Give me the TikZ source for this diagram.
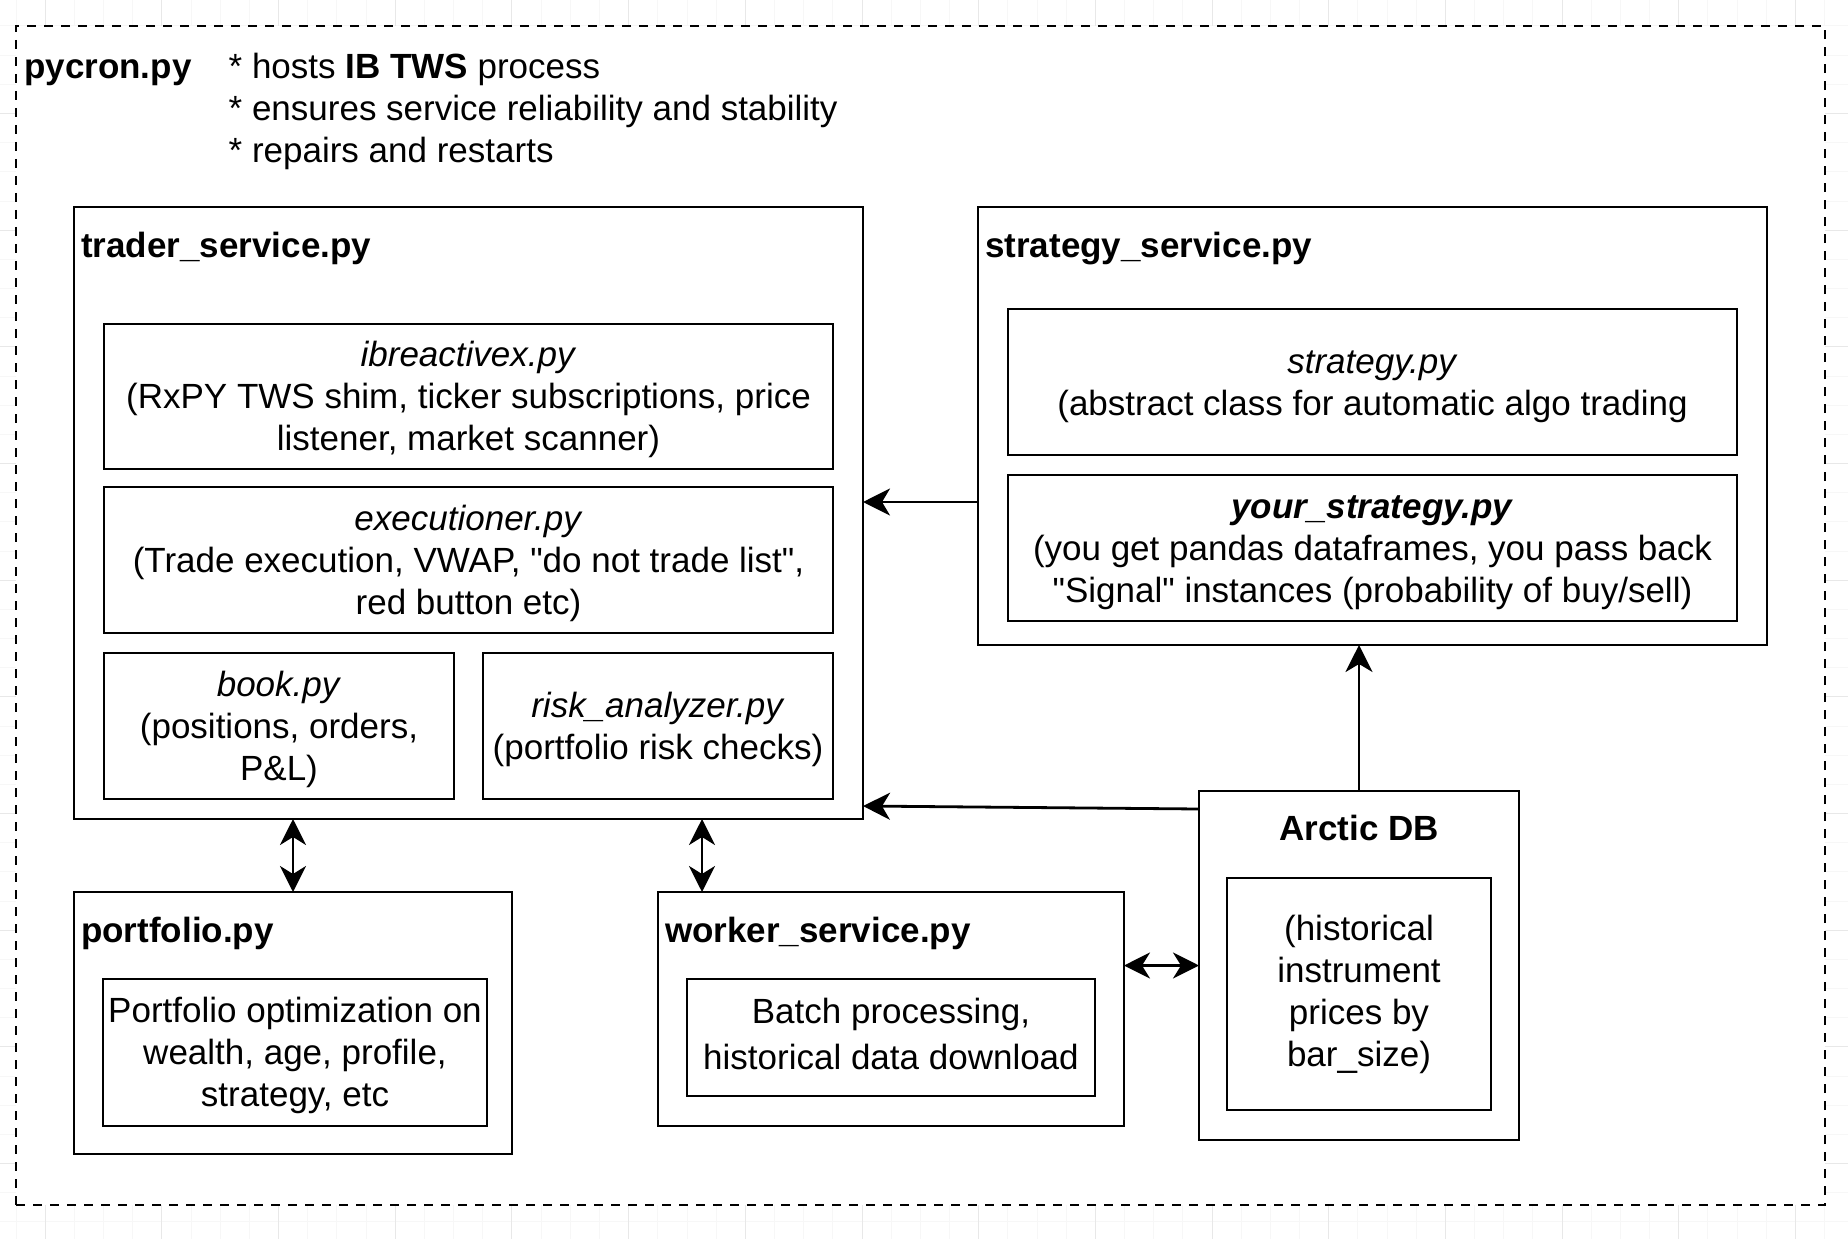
\documentclass[tikz,border=0pt]{standalone}
\usepackage{fontspec}
\setmainfont{Liberation Sans}
\usetikzlibrary{arrows.meta, positioning, calc}
\newcommand\padtop{\rule{0pt}{35pt}}

\begin{document}
\begin{tikzpicture}[x=1pt, y=-1pt,
  font=\fontsize{35}{42}\selectfont,
  frame/.style={draw, line width=2.8pt, fill=white, inner sep=0pt, outer sep=0pt, anchor=north west},
  boxtext/.style={frame, align=center},
  module/.style={boxtext, execute at end node={\rule[-11pt]{0pt}{0pt}}},
  title/.style={anchor=base west, inner sep=0pt, font=\fontsize{35}{42}\selectfont\bfseries},
  note/.style={anchor=base west, inner sep=0pt},
  arr/.style={line width=2.8pt, -{Stealth[length=27pt, width=27pt, inset=8pt]}},
  dbl/.style={line width=2.8pt, {Stealth[length=26pt, width=26pt, inset=8pt]}-{Stealth[length=26pt, width=26pt, inset=8pt]}},
  gridminor/.style={draw=gray!6, line width=1pt},
  gridmajor/.style={draw=gray!18, line width=1pt}]
\useasboundingbox (0,0) rectangle (1848,1239);

% background grid
\foreach \k in {0,...,62} {
  \pgfmathsetmacro\gx{16.1+29.17*\k}
  \draw[gridminor] (\gx,0) -- (\gx,1239);
}
\foreach \k in {0,...,42} {
  \pgfmathsetmacro\gy{26+29.17*\k}
  \draw[gridminor] (0,\gy) -- (1848,\gy);
}
\foreach \k in {1,5,...,61} {
  \pgfmathsetmacro\gx{16.1+29.17*\k}
  \draw[gridmajor] (\gx,0) -- (\gx,1239);
}
\foreach \k in {3,7,...,39} {
  \pgfmathsetmacro\gy{26+29.17*\k}
  \draw[gridmajor] (0,\gy) -- (1848,\gy);
}

% pycron.py container
\node[frame, dash pattern=on 9pt off 8pt, minimum width=1809pt, minimum height=1179pt] (pycron) at (16,26) {};
\node[title] (pycronlbl) at (24,78.5) {pycron.py};
\foreach \line [count=\i from 0] in {{* hosts \textbf{IB TWS} process}, {* ensures service reliability and stability}, {* repairs and restarts}}
  \node[note] (duty\i) at (228.5,{78.5+42*\i}) {\line};

% trader_service.py
\node[frame, minimum width=789pt, minimum height=612pt] (trader) at (74,207) {};
\node[title] (traderlbl) at (81,257) {trader\_service.py};
\node[module, minimum width=729pt, minimum height=145pt] (ibreact) at (104,324)
  {\padtop\textit{ibreactivex.py}\\(RxPY TWS shim, ticker subscriptions, price\\listener, market scanner)};
\node[module, minimum width=729pt, minimum height=146pt] (exec) at (104,487)
  {\padtop\textit{executioner.py}\\(Trade execution, VWAP, \textquotedbl do not trade list\textquotedbl,\\red button etc)};
\node[module, minimum width=350pt, minimum height=146pt] (book) at (104,653)
  {\padtop\textit{book.py}\\(positions, orders,\\P\&L)};
\node[module, minimum width=350pt, minimum height=146pt] (risk) at (483,653)
  {\padtop\textit{risk\_analyzer.py}\\(portfolio risk checks)};

% strategy_service.py
\node[frame, minimum width=789pt, minimum height=438pt] (strategy) at (978,207) {};
\node[title] (strategylbl) at (985,257) {strategy\_service.py};
\node[module, minimum width=729pt, minimum height=146pt] (strat) at (1008,309)
  {\padtop\textit{strategy.py}\\(abstract class for automatic algo trading};
\node[module, minimum width=729pt, minimum height=146pt] (yourstrat) at (1008,475)
  {\padtop\textbf{\textit{your\_strategy.py}}\\(you get pandas dataframes, you pass back\\\textquotedbl Signal\textquotedbl{} instances (probability of buy/sell)};

% portfolio.py
\node[frame, minimum width=438pt, minimum height=262pt] (portfolio) at (74,892) {};
\node[title] (portfoliolbl) at (81,942) {portfolio.py};
\node[module, minimum width=384pt, minimum height=147pt] (optim) at (103,979)
  {\padtop Portfolio optimization on\\wealth, age, profile,\\strategy, etc};

% worker_service.py
\node[frame, minimum width=466pt, minimum height=234pt] (worker) at (658,892) {};
\node[title] (workerlbl) at (665,942) {worker\_service.py};
\node[boxtext, minimum width=408pt, minimum height=117pt, font=\fontsize{35}{46}\selectfont,
  execute at end node={\rule[-7pt]{0pt}{0pt}}] (batch) at (687,979)
  {Batch processing,\\historical data download};

% Arctic DB
\node[frame, minimum width=320pt, minimum height=349pt] (arctic) at (1199,791) {};
\node[title, anchor=base] (arcticlbl) at (1359,840) {Arctic DB};
\node[boxtext, minimum width=264pt, minimum height=232pt] (prices) at (1227,878)
  {(historical\\instrument\\prices by\\bar\_size)};

% connectors
\coordinate (sigY) at (0,502);
\draw[arr] (strategy.west |- sigY) -- (trader.east |- sigY);
\draw[arr] ([yshift=-18pt]arctic.north west) -- ([yshift=13pt]trader.south east);
\draw[arr] (arctic.north) -- (arctic.north |- strategy.south);
\draw[dbl] (portfolio.north) -- (portfolio.north |- trader.south);
\draw[dbl] ([xshift=44pt]worker.north west) -- ([xshift=44pt]worker.north west |- trader.south);
\draw[dbl] (arctic.west) -- (arctic.west -| worker.east);
\end{tikzpicture}
\end{document}
